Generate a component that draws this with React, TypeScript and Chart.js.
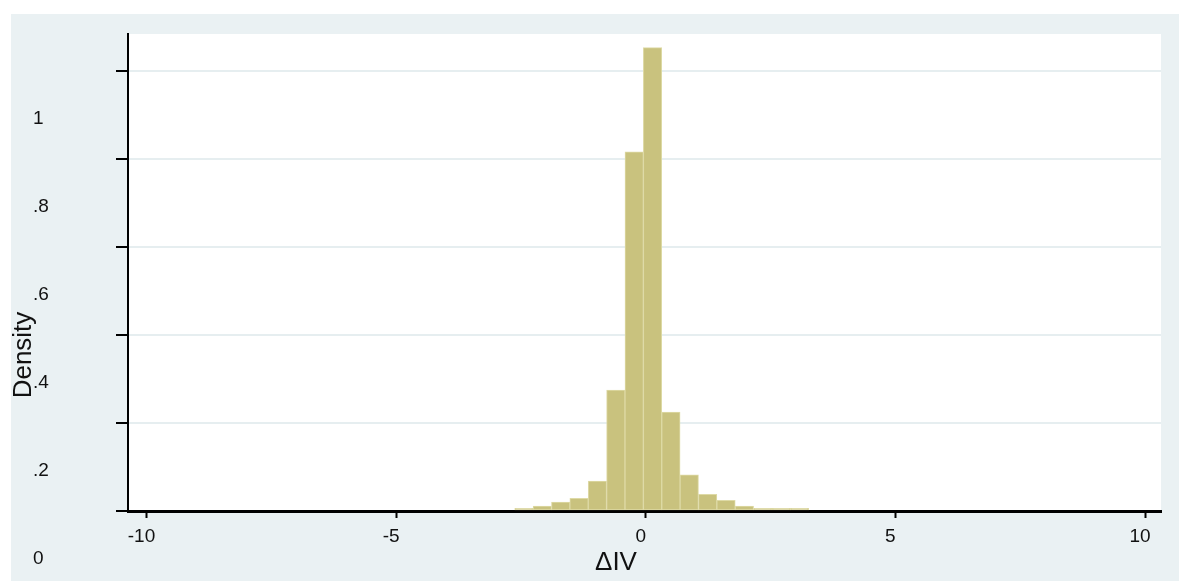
import { useEffect, useRef } from 'react';
import { Chart, registerables } from 'chart.js';

Chart.register(...registerables);

// Histogram of the change in IV: bin midpoints and density per bin
const binCenters = [
  -2.44, -2.072, -1.704, -1.336, -0.968, -0.6, -0.232, 0.136,
  0.504, 0.872, 1.24, 1.608, 1.976, 2.344, 2.712, 3.08,
];
const densities = [
  0.006, 0.011, 0.02, 0.029, 0.068, 0.275, 0.816, 1.053,
  0.225, 0.082, 0.038, 0.024, 0.011, 0.006, 0.006, 0.006,
];

const yTickLabels = ['0', '.2', '.4', '.6', '.8', '1'];
const xTickLabels = ['-10', '-5', '0', '5', '10'];
const xTitle = '\u0394IV';
const yTitle = 'Density';

const WIDTH = 1168;
const HEIGHT = 567;
const FONT = '"Liberation Sans", Arial, Helvetica, sans-serif';
const OUTER_BG = '#eaf1f3';
const GRID = '#e6eef0';
const BAR_FILL = '#c9c27e';
const BAR_EDGE = '#dedaa6';
const INK = '#111111';

// Paints the outer band, the white plot region and the two axis titles
const panelPlugin = {
  id: 'panel',
  beforeDraw(chart: any) {
    const { ctx, chartArea: a, width, height } = chart;
    ctx.save();
    ctx.fillStyle = OUTER_BG;
    ctx.fillRect(0, 0, width, height);
    ctx.fillStyle = '#ffffff';
    ctx.fillRect(a.left, a.top, a.right - a.left, a.bottom - a.top);
    ctx.restore();
  },
  afterDraw(chart: any) {
    const { ctx, chartArea: a } = chart;
    ctx.save();
    ctx.fillStyle = INK;
    ctx.font = `26px ${FONT}`;
    ctx.textAlign = 'center';
    ctx.textBaseline = 'alphabetic';
    ctx.fillText(xTitle, a.left + 488, a.bottom + 59);
    ctx.translate(a.left - 97, a.top + 321);
    ctx.rotate(-Math.PI / 2);
    ctx.fillText(yTitle, 0, 0);
    ctx.restore();
  },
};

export default function App() {
  const canvasRef = useRef<HTMLCanvasElement | null>(null);

  useEffect(() => {
    const canvas = canvasRef.current;
    if (!canvas) return;
    const chart = new Chart(canvas, {
      type: 'bar',
      data: {
        datasets: [
          {
            data: binCenters.map((x, i) => ({ x, y: densities[i] })),
            backgroundColor: BAR_FILL,
            borderColor: BAR_EDGE,
            borderWidth: 1,
            borderSkipped: false,
            barPercentage: 1,
            categoryPercentage: 1,
          },
        ],
      },
      options: {
        responsive: false,
        animation: false,
        devicePixelRatio: 1,
        layout: { padding: { left: 22, right: 18, top: 20, bottom: 0 } },
        plugins: {
          legend: { display: false },
          tooltip: { enabled: false },
          title: { display: false },
        },
        scales: {
          x: {
            type: 'linear',
            min: -10.37,
            max: 10.32,
            offset: false,
            z: 1,
            afterFit(scale: any) {
              scale.height = 70;
            },
            border: { display: true, color: '#000', width: 3 },
            grid: {
              offset: false,
              drawOnChartArea: false,
              drawTicks: true,
              tickLength: 7,
              tickWidth: 2,
              tickColor: '#000',
            },
            ticks: {
              stepSize: 5,
              includeBounds: false,
              autoSkip: false,
              maxRotation: 0,
              padding: 7,
              labelOffset: -5,
              color: INK,
              font: { family: FONT, size: 19 },
              callback: (_v: any, i: number) => xTickLabels[i],
            },
          },
          y: {
            type: 'linear',
            min: 0,
            max: 1.084,
            afterFit(scale: any) {
              scale.width = 95;
            },
            border: { display: true, color: '#000', width: 2 },
            grid: {
              color: GRID,
              lineWidth: 2,
              drawTicks: true,
              tickLength: 12,
              tickWidth: 2,
              tickColor: '#000',
            },
            ticks: {
              stepSize: 0.2,
              includeBounds: false,
              autoSkip: false,
              crossAlign: 'far',
              labelOffset: 48,
              color: INK,
              font: { family: FONT, size: 19 },
              callback: (_v: any, i: number) => yTickLabels[i],
            },
          },
        },
      },
      plugins: [panelPlugin],
    });
    return () => chart.destroy();
  }, []);

  return (
    <div
      style={{
        position: 'fixed',
        left: 11,
        top: 14,
        width: WIDTH,
        height: HEIGHT,
        background: OUTER_BG,
      }}
    >
      <canvas
        ref={canvasRef}
        width={WIDTH}
        height={HEIGHT}
        style={{ display: 'block', width: WIDTH, height: HEIGHT }}
      />
    </div>
  );
}
